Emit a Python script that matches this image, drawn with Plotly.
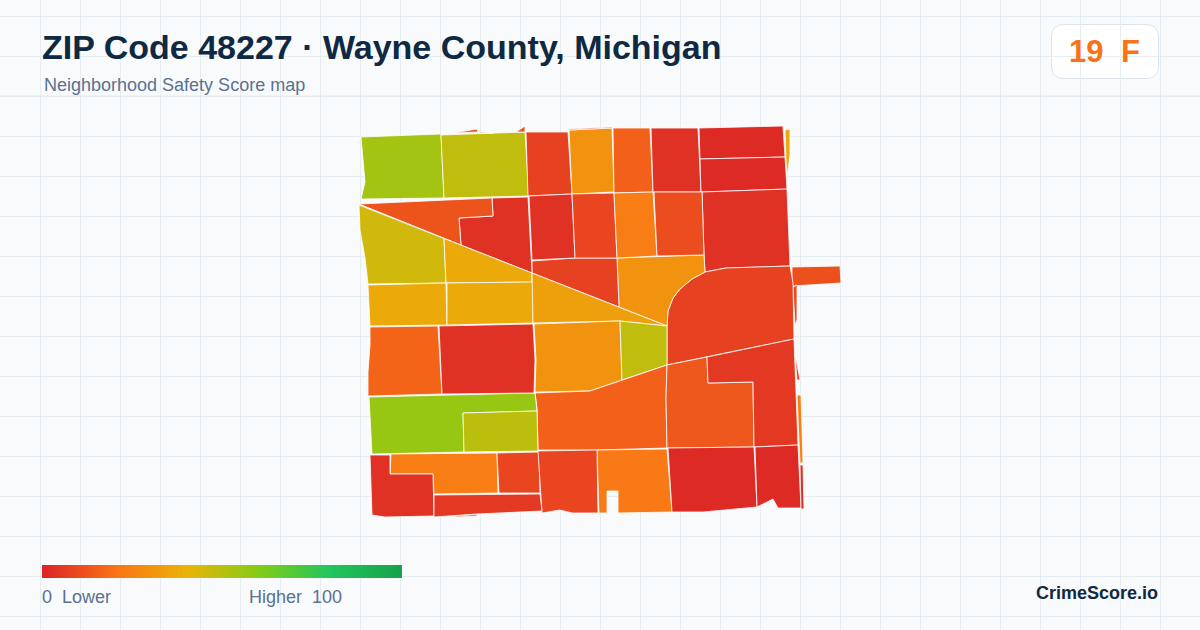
import plotly.graph_objects as go
from plotly.colors import sample_colorscale

TITLE = "ZIP Code 48227 · Wayne County, Michigan"
SUBTITLE = "Neighborhood Safety Score map"
GRADE_SCORE = "19"
GRADE_LETTER = "F"
BRAND = "CrimeScore.io"

color_stops = [[0.0, "#dc2626"], [0.2, "#f97316"], [0.4, "#eab308"],
               [0.6, "#84cc16"], [0.8, "#22c55e"], [1.0, "#16a34a"]]
legend_values = list(range(0, 101))

# Score of each neighbourhood (same order as tract_outlines)
tract_scores = [
    54, 48, 12, 12, 7, 30, 12, 15, 3, 1,
    1, 37, 3, 11, 9, 7, 30, 7, 3, 12,
    3, 8, 23, 10, 45, 37, 37, 37, 34, 30,
    48, 15, 13, 5, 5, 24, 22, 1, 1, 23,
    8, 56, 49, 16, 3, 3, 8, 5, 2, 7, 5,
]

# Outline of each neighbourhood, in map units
tract_outlines = [
    [(361,137),(441,134),(444,198),(361,199),(365,182),(363,155)],
    [(441,135),(525,132),(529,196),(444,198)],
    [(453,133),(477,129),(478,132)],
    [(479,132),(493,133),(480,133)],
    [(526,132),(568,132),(572,194),(528,196)],
    [(569,130),(612,128),(614,192),(572,194)],
    [(516,132),(525,126),(525,132)],
    [(613,128),(650,128),(653,192),(614,193)],
    [(651,128),(698,128),(701,192),(653,192)],
    [(699,128),(783,126),(785,157),(700,159)],
    [(700,159),(785,157),(787,189),(701,192)],
    [(785,130),(790,129),(790,155),(787,177),(786,160)],
    [(702,192),(787,189),(790,266),(726,268),(705,272),(704,255)],
    [(792,267),(840,266),(841,283),(792,286)],
    [(793,287),(797,285),(797,320),(795,325)],
    [(667,325),(668,311),(673,298),(680,289),(692,279),(705,272),(726,268),(790,266),(793,283),(794,325),(794,339),(667,365)],
    [(617,258),(704,255),(705,272),(692,279),(680,289),(673,298),(668,311),(667,326),(619,307)],
    [(532,261),(575,258),(617,258),(619,307),(532,273)],
    [(492,198),(528,197),(532,273),(461,245),(459,218),(493,216)],
    [(359,204),(492,198),(493,216),(459,218),(461,245)],
    [(529,196),(572,194),(575,258),(532,260)],
    [(572,194),(614,193),(617,258),(575,258)],
    [(614,193),(653,192),(657,256),(617,258)],
    [(654,192),(702,192),(704,255),(657,256)],
    [(359,205),(444,238.5),(446,283),(368,284),(365,258),(360,230)],
    [(444,238.5),(532,273),(532,282),(446,283)],
    [(368,285),(446,283),(447,325),(370,326)],
    [(447,283),(533,282),(533,323),(447,325)],
    [(532,273),(667,326),(620,321),(533,323)],
    [(534,324),(620,321),(622,380),(590,391),(535,392),(536,360)],
    [(620,321),(667,326),(667,365),(622,380)],
    [(667,365),(590,391),(535,393),(537,408),(538,450),(597,450),(667,448),(666,398)],
    [(667,365),(707,357),(708,383),(753,382),(754,447),(667,448),(666,398)],
    [(707,357),(794,339),(798,445),(754,447),(753,382),(708,383)],
    [(795,354),(800,380),(797,380)],
    [(797,395),(801,395),(803,463),(800,463)],
    [(597,450),(667,449),(672,512),(618,513),(618,491),(607,491),(607,513),(599,513)],
    [(668,448),(754,447),(757,507),(703,512),(672,512)],
    [(755,447),(798,445),(801,508),(778,508),(773,499),(757,507)],
    [(391,454),(497,453),(498,493),(434,494),(433,474),(390,474)],
    [(497,453),(539,452),(540,493),(499,493)],
    [(369,397),(535,393),(537,411),(463,413),(464,452),(372,454)],
    [(463,413),(537,411),(538,451),(464,452)],
    [(370,327),(438,326),(442,394),(368,396),(368,372),(370,345)],
    [(439,326),(533,324),(535,360),(534,393),(442,394)],
    [(370,455),(390,455),(390,474),(433,474),(434,516),(385,517),(372,515)],
    [(538,451),(597,450),(598,513),(572,513),(560,510),(542,513)],
    [(434,495),(540,494),(542,511),(477,514),(434,517)],
    [(800,465),(803,465),(804,509),(801,509)],
    [(569,129),(612,127),(612,128),(569,130)],
    [(456,516),(477,514.5),(477,516),(456,517)],
]

GRID_COLOUR = "#e5edf2"

fig = go.Figure()

# Header strip hides the grid above the map area, and the grade card sits on it
fig.add_shape(type="rect", x0=-2, x1=1202, y0=-2, y1=95, xref="x", yref="y",
              layer="below", fillcolor="#f8fafc", line_width=0)
fig.add_shape(type="line", x0=0, x1=1200, y0=96, y1=96, xref="x", yref="y",
              layer="below", line=dict(color=GRID_COLOUR, width=1))
fig.add_shape(type="path", xref="x", yref="y", layer="below",
              path="M 1064 24.5 L 1146 24.5 Q 1158.5 24.5 1158.5 37 L 1158.5 66 Q 1158.5 78.5 1146 78.5 "
                   "L 1064 78.5 Q 1051.5 78.5 1051.5 66 L 1051.5 37 Q 1051.5 24.5 1064 24.5 Z",
              fillcolor="#ffffff", line=dict(color="#dde4ec", width=1))

for outline, score in zip(tract_outlines, tract_scores):
    xs = [p[0] for p in outline] + [outline[0][0]]
    ys = [p[1] for p in outline] + [outline[0][1]]
    colour = sample_colorscale(color_stops, [score / 100])[0]
    fig.add_trace(go.Scatter(x=xs, y=ys, mode="lines", fill="toself", fillcolor=colour,
                             line=dict(color="#ffffff", width=0.8), hoverinfo="skip",
                             showlegend=False))

bar_dx = 360 / len(legend_values)
fig.add_trace(go.Heatmap(z=[legend_values], x0=42 + bar_dx / 2, dx=bar_dx, y0=571.5, dy=13,
                         colorscale=color_stops, zmin=0, zmax=100, showscale=False,
                         zsmooth="best", hoverinfo="skip"))


def label(text, x, y, size, colour, anchor="left", bold=False):
    fig.add_annotation(text=f"<b>{text}</b>" if bold else text, x=x, y=y, xref="x", yref="y",
                       xanchor=anchor, yanchor="middle", showarrow=False, borderpad=0,
                       font=dict(family="Liberation Sans, Arial, sans-serif", size=size, color=colour))


label(TITLE, 41, 47, 34, "#0f2942", bold=True)
label(SUBTITLE, 43, 85, 18, "#5a7190")
label(GRADE_SCORE, 1068, 51, 31, "#f97316", bold=True)
label(GRADE_LETTER, 1120, 51, 31, "#f97316", bold=True)
label("0", 41, 597, 18, "#5a7190")
label("Lower", 61, 597, 18, "#5a7190")
label("Higher", 248, 597, 18, "#5a7190")
label("100", 343, 597, 18, "#5a7190", anchor="right")
label(BRAND, 1158.5, 593, 18, "#0f2942", anchor="right", bold=True)

axis = dict(showticklabels=False, ticks="", zeroline=False, showline=False, showgrid=True,
            gridcolor=GRID_COLOUR, gridwidth=1, fixedrange=True)
fig.update_layout(
    width=1200, height=630, margin=dict(l=0, r=0, t=0, b=0),
    paper_bgcolor="#f8fafc", plot_bgcolor="#f8fafc", showlegend=False,
    xaxis=dict(axis, range=[0, 1200], tick0=0, dtick=40),
    yaxis=dict(axis, range=[630, 0], tick0=16, dtick=40),
)

fig.write_html("out.html", config=dict(displayModeBar=False),
               post_script="document.body.style.margin='0';")
